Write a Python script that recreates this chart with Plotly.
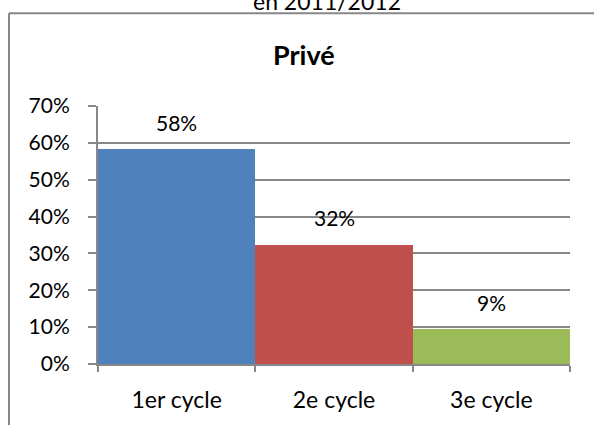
import plotly.graph_objects as go

categories = ["1er cycle", "2e cycle", "3e cycle"]
values = [0.583, 0.324, 0.094]
bar_colors = ["#4F81BD", "#C0504D", "#9BBB59"]
y_tick_vals = [0, 0.1, 0.2, 0.3, 0.4, 0.5, 0.6, 0.7]
y_tick_text = ["0%", "10%", "20%", "30%", "40%", "50%", "60%", "70%"]
title_text = "Privé"
top_text = "en 2011/2012"

FONT = "Lato"
GRID = "#878787"

fig = go.Figure()
fig.add_trace(go.Bar(
    x=categories, y=values,
    marker=dict(color=bar_colors, line=dict(width=0)),
    hoverinfo="skip",
))

annotations = []
for c, v in zip(categories, values):
    annotations.append(dict(
        x=c, y=v, xref="x", yref="y",
        text=f"{round(v * 100)}%", showarrow=False,
        yanchor="middle", yshift=27,
        font=dict(family=FONT, size=21, color="#000000"),
    ))
annotations.append(dict(
    x=(304 - 98) / 472, y=(366.5 - 55) / 260, xref="paper", yref="paper",
    text=f"<b>{title_text}</b>", showarrow=False,
    xanchor="center", yanchor="middle",
    font=dict(family=FONT, size=27, color="#000000"),
))
annotations.append(dict(
    x=(327 - 98) / 472, y=(366.5 - 1) / 260, xref="paper", yref="paper",
    text=top_text, showarrow=False,
    xanchor="center", yanchor="middle",
    font=dict(family=FONT, size=23, color="#000000"),
))

shapes = [
    dict(type="line", xref="paper", yref="paper",
         x0=(9 - 98) / 472, x1=(9 - 98) / 472, y0=(366.5 - 13) / 260, y1=-0.4,
         line=dict(color=GRID, width=2)),
    dict(type="line", xref="paper", yref="paper",
         x0=(9 - 98) / 472, x1=1.1, y0=(366.5 - 13) / 260, y1=(366.5 - 13) / 260,
         line=dict(color=GRID, width=2)),
]

fig.update_layout(
    width=594, height=425,
    margin=dict(l=98, r=24, t=106, b=58.5),
    paper_bgcolor="#FFFFFF", plot_bgcolor="#FFFFFF",
    bargap=0,
    showlegend=False,
    annotations=annotations,
    shapes=shapes,
    font=dict(family=FONT, size=21, color="#000000"),
    xaxis=dict(
        showgrid=False, showline=True, linecolor=GRID, linewidth=2,
        ticks="outside", ticklen=6, tickcolor=GRID, tickwidth=2,
        tickson="boundaries", ticklabelstandoff=14,
        tickfont=dict(family=FONT, size=23, color="#000000"),
        fixedrange=True,
    ),
    yaxis=dict(
        range=[0, 0.7], tickvals=y_tick_vals, ticktext=y_tick_text,
        showgrid=True, gridcolor=GRID, gridwidth=2,
        showline=True, linecolor=GRID, linewidth=2,
        ticks="outside", ticklen=8, tickcolor=GRID, tickwidth=2,
        zeroline=False, ticklabelstandoff=14,
        tickfont=dict(family=FONT, size=21, color="#000000"),
        fixedrange=True,
    ),
)

fig.write_html(
    "out.html",
    config={"displayModeBar": False},
    post_script="document.body.style.margin='0';document.body.style.overflow='hidden';",
)
